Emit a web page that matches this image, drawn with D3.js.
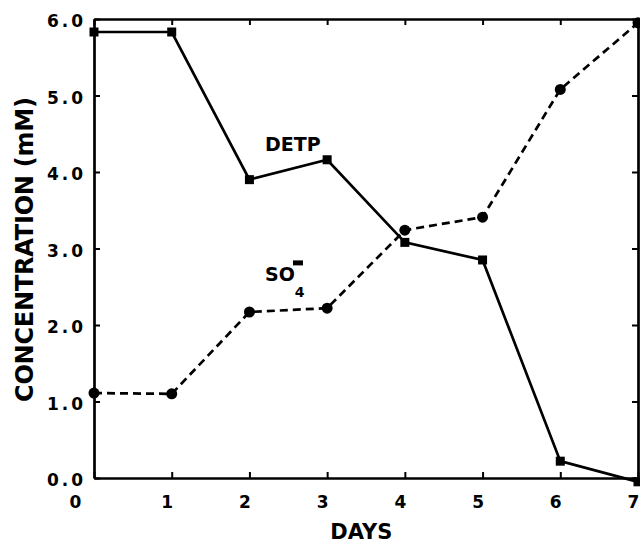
<!DOCTYPE html>
<html>
<head>
<meta charset="utf-8">
<script src="https://cdn.jsdelivr.net/npm/d3@7"></script>
<style>
  body { margin: 0; background: #fff; }
  text { font-family: "DejaVu Sans", sans-serif; font-weight: bold; fill: #000; }
</style>
</head>
<body>
<div class="chart_wrapper"></div>
<script>
const days = [0, 1, 2, 3, 4, 5, 6, 7]
const detp = [5.83, 5.83, 3.90, 4.16, 3.08, 2.85, 0.22, -0.05]
const so4 = [1.11, 1.10, 2.17, 2.22, 3.24, 3.41, 5.08, 5.95]
const yTicks = [0, 1, 2, 3, 4, 5, 6]

var margin = {top: 19, right: 2, bottom: 68, left: 94},
    width = 640 - margin.left - margin.right,
    height = 546 - margin.top - margin.bottom;

var svg = d3.select(".chart_wrapper")
  .append("svg")
    .attr("width", width + margin.left + margin.right)
    .attr("height", height + margin.top + margin.bottom)
  .append("g")
    .attr("transform", "translate(" + margin.left + "," + margin.top + ")");

const xScale = d3.scaleLinear()
  .domain([0, 7])
  .range([0, width])

const yScale = d3.scaleLinear()
  .domain([0, 6])
  .range([height, 0])

// frame: all four axes, ticks pointing inwards
const xAxis = d3.axisBottom(xScale)
  .tickValues(days)
  .tickSizeInner(-6)
  .tickSizeOuter(0)
  .tickPadding(18)
  .tickFormat(d3.format("d"))

const gx = svg.append("g")
  .attr("transform", "translate(0," + height + ")")
  .call(xAxis)
gx.selectAll("text")
  .style("font-size", "17px")
  .attr("dx", d => d === 0 ? -19 : -5)

svg.append("g")
  .call(d3.axisTop(xScale).tickValues(days).tickSizeInner(-6).tickSizeOuter(0).tickFormat(""))

const yAxis = d3.axisLeft(yScale)
  .tickValues(yTicks)
  .tickSizeInner(-6)
  .tickSizeOuter(0)
  .tickPadding(8)
  .tickFormat(d3.format(".1f"))

const gy = svg.append("g").call(yAxis)
gy.selectAll("text")
  .style("font-size", "17px")
  .style("letter-spacing", "3px")
  .attr("dy", "0.45em")

svg.append("g")
  .attr("transform", "translate(" + width + ",0)")
  .call(d3.axisRight(yScale).tickValues(yTicks).tickSizeInner(-6).tickSizeOuter(0).tickFormat(""))

svg.selectAll(".domain, .tick line")
  .attr("stroke", "#000")
  .attr("stroke-width", 2.7)
svg.selectAll(".tick line").attr("stroke-width", 2)

// series
const lineDetp = d3.line()
  .x((d, i) => xScale(days[i]))
  .y(d => yScale(d))

svg.append("path")
  .datum(detp)
  .attr("d", lineDetp)
  .attr("fill", "none")
  .attr("stroke", "#000")
  .attr("stroke-width", 2.7)

svg.append("path")
  .datum(so4)
  .attr("d", lineDetp)
  .attr("fill", "none")
  .attr("stroke", "#000")
  .attr("stroke-width", 2.7)
  .attr("stroke-dasharray", "8,5")

svg.selectAll("mysquare")
  .data(detp)
  .enter()
  .append("rect")
    .attr("x", (d, i) => xScale(days[i]) - 4.5)
    .attr("y", d => yScale(d) - 4.5)
    .attr("width", 9)
    .attr("height", 9)
    .attr("fill", "#000")

svg.selectAll("mycircle")
  .data(so4)
  .enter()
  .append("circle")
    .attr("cx", (d, i) => xScale(days[i]))
    .attr("cy", d => yScale(d))
    .attr("r", 5.5)
    .attr("fill", "#000")

// series labels
svg.append("text")
  .attr("x", xScale(2.2))
  .attr("y", yScale(4.27))
  .style("font-size", "19px")
  .text("DETP")

const so4Label = svg.append("text")
  .attr("x", xScale(2.2))
  .attr("y", yScale(2.57))
  .style("font-size", "19px")
so4Label.append("tspan").text("SO")
so4Label.append("tspan")
  .attr("dy", 16)
  .style("font-size", "14px")
  .text("4")
svg.append("rect")
  .attr("x", xScale(2.2) + 28)
  .attr("y", yScale(2.57) - 21)
  .attr("width", 10)
  .attr("height", 5)
  .attr("fill", "#000")

// axis titles
svg.append("text")
  .attr("x", xScale(3.44))
  .attr("y", height + 61)
  .attr("text-anchor", "middle")
  .style("font-size", "21px")
  .text("DAYS")

svg.append("text")
  .attr("transform", "translate(" + (-61) + "," + (yScale(3) + 1) + ") rotate(-90)")
  .attr("text-anchor", "middle")
  .attr("textLength", 305)
  .attr("lengthAdjust", "spacing")
  .style("font-size", "24px")
  .text("CONCENTRATION (mM)")
</script>
</body>
</html>
